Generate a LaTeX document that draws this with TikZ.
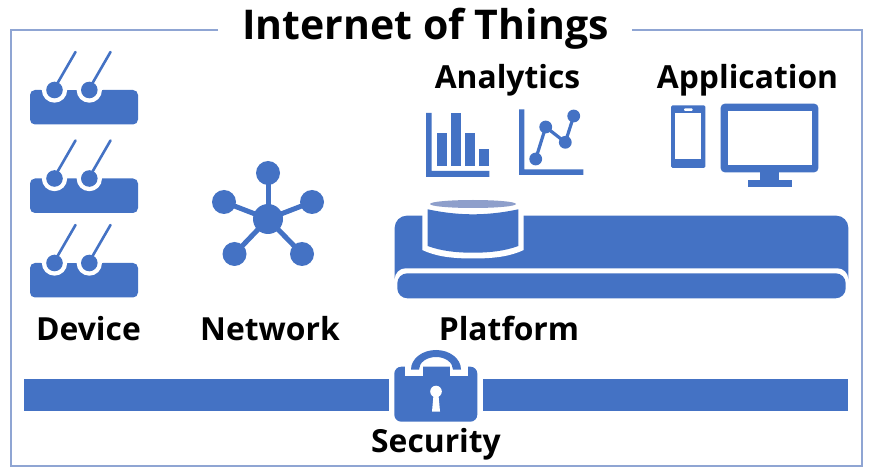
\documentclass[tikz,border=0pt]{standalone}
\usepackage{fontspec}
\setmainfont{Open Sans}
\definecolor{iotblue}{HTML}{4472C4}
\definecolor{framec}{HTML}{8FA5D3}
\definecolor{lidc}{HTML}{8E9FCB}
\tikzset{
  lbl/.style={font=\bfseries\fontsize{31.8}{34}\selectfont, text=black, inner sep=0pt, anchor=base},
  ttl/.style={font=\bfseries\fontsize{41}{44}\selectfont, text=black, inner sep=0pt, anchor=base},
  blue/.style={fill=iotblue, draw=none},
  wht/.style={fill=white, draw=none},
  wire/.style={draw=iotblue, line width=2.6pt, line cap=round},
  spoke/.style={draw=iotblue, line width=5pt},
  frameline/.style={draw=framec, line width=1.3pt}
}
\newcommand{\devicegroup}[1]{%
  \begin{scope}[yshift=-#1pt]
    \fill[blue, rounded corners=5pt] (30,90) rectangle (138,124.5);
    \fill[wht] (54.5,90) circle (12.7);
    \fill[wht] (89.3,90) circle (12.7);
    \fill[wht] (41,78) rectangle (103,90);
    \fill[blue] (54.5,90) circle (8.3);
    \fill[blue] (89.3,90) circle (8.3);
    \draw[wire] (57,84) -- (75.5,52);
    \draw[wire] (92,84) -- (110.5,52);
  \end{scope}}
\begin{document}
\begin{tikzpicture}[x=1pt,y=-1pt]
\useasboundingbox (0,0) rectangle (873,470);
\fill[white] (0,0) rectangle (873,470);
% frame
\coordinate (fa) at (218,30);
\coordinate (fb) at (11,30);
\coordinate (fc) at (11,466);
\coordinate (fd) at (862,466);
\coordinate (fe) at (862,30);
\coordinate (ff) at (632,30);
\draw[frameline] (fa) -- (fb) -- (fc) -- (fd) -- (fe) -- (ff);
\node[ttl] (title) at (425.5,39.5) {Internet of Things};
% devices
\devicegroup{0}
\devicegroup{88.5}
\devicegroup{173}
\node[lbl] (device) at (88.5,341) {Device};
% network
\coordinate (hub) at (268,219);
\coordinate (n1) at (268,173);
\coordinate (n2) at (224,202);
\coordinate (n3) at (312,202);
\coordinate (n4) at (234.5,254);
\coordinate (n5) at (302,254);
\foreach \n in {n1,n2,n3,n4,n5} {
  \draw[spoke] (hub) -- (\n);
  \fill[blue] (\n) circle (12);
}
\fill[blue] (hub) circle (15);
\node[lbl] (network) at (270,341) {Network};
% analytics
\node[lbl] (analytics) at (507.5,88.5) {Analytics};
\fill[blue] (426,113) -- (431.5,113) -- (431.5,171) -- (489.3,171) -- (489.3,177) -- (426,177) -- cycle;
\fill[blue] (437.3,132.7) rectangle (447.3,165.7);
\fill[blue] (451.3,113) rectangle (461.3,165.7);
\fill[blue] (465.3,132.7) rectangle (475.3,165.7);
\fill[blue] (479.3,149) rectangle (489.3,165.7);
\fill[blue] (519,109.3) -- (524.3,109.3) -- (524.3,169.3) -- (583.3,169.3) -- (583.3,175) -- (519,175) -- cycle;
\coordinate (p1) at (535.7,159);
\coordinate (p2) at (545.7,127);
\coordinate (p3) at (565.3,142.3);
\coordinate (p4) at (573.7,116);
\draw[draw=iotblue, line width=3.2pt] (p1) -- (p2) -- (p3) -- (p4);
\foreach \p in {p1,p2,p3,p4} \fill[blue] (\p) circle (6.4);
% application
\node[lbl] (application) at (747.5,88.5) {Application};
\fill[blue, rounded corners=1.5pt] (671,105.3) rectangle (705.3,168);
\fill[wht] (675.3,113.3) rectangle (701,159.3);
\fill[wht, rounded corners=1pt] (684,108.3) rectangle (692.7,111);
\fill[blue, rounded corners=4pt] (720.7,103.7) rectangle (818.3,172.3);
\fill[wht] (728,111.3) rectangle (811.7,165.3);
\fill[blue] (760,172) rectangle (779.3,180);
\fill[blue] (747.7,180) rectangle (791.7,187.3);
% platform
\fill[blue, rounded corners=12pt] (394.7,215.7) rectangle (848.3,290);
\fill[wht, rounded corners=11pt] (394.7,268.3) rectangle (848.3,310);
\fill[blue, rounded corners=10pt] (397.3,273.3) rectangle (845.7,298.3);
% cylinder
\fill[wht] (422.3,205) -- (422.3,250) .. controls (435,256) and (450,258.5) .. (473,258.5) .. controls (496,258.5) and (511,256) .. (523.7,250) -- (523.7,205) -- cycle;
\fill[blue] (427.7,209.3) .. controls (445,213) and (460,214.3) .. (473,214.3) .. controls (486,214.3) and (501,213) .. (518.3,209.3) -- (518.3,246) .. controls (505,251) and (490,252.7) .. (473,252.7) .. controls (456,252.7) and (441,251) .. (427.7,246) -- cycle;
\fill[lidc] (473,204) ellipse (43 and 4);
\node[lbl] (platform) at (509,341) {Platform};
% security
\fill[blue] (24,379.3) rectangle (389,410.7);
\fill[blue] (483,379.3) rectangle (848,410.7);
\fill[blue, rounded corners=7pt] (394.3,366.7) rectangle (477.3,421.7);
\fill[wht] (405,366) rectangle (423.3,375.7);
\fill[wht] (450,366) rectangle (468,375.7);
\fill[blue] (411,369.5) arc[start angle=180, end angle=360, x radius=25, y radius=19.5] -- (453,369.5) arc[start angle=360, end angle=180, x radius=17, y radius=12.5] -- cycle;
\fill[wht] (436,391.5) circle (5.8);
\fill[wht] (433.6,394) -- (438.4,394) -- (440,411.5) -- (432,411.5) -- cycle;
\node[lbl] (security) at (436,452) {Security};
\end{tikzpicture}
\end{document}
